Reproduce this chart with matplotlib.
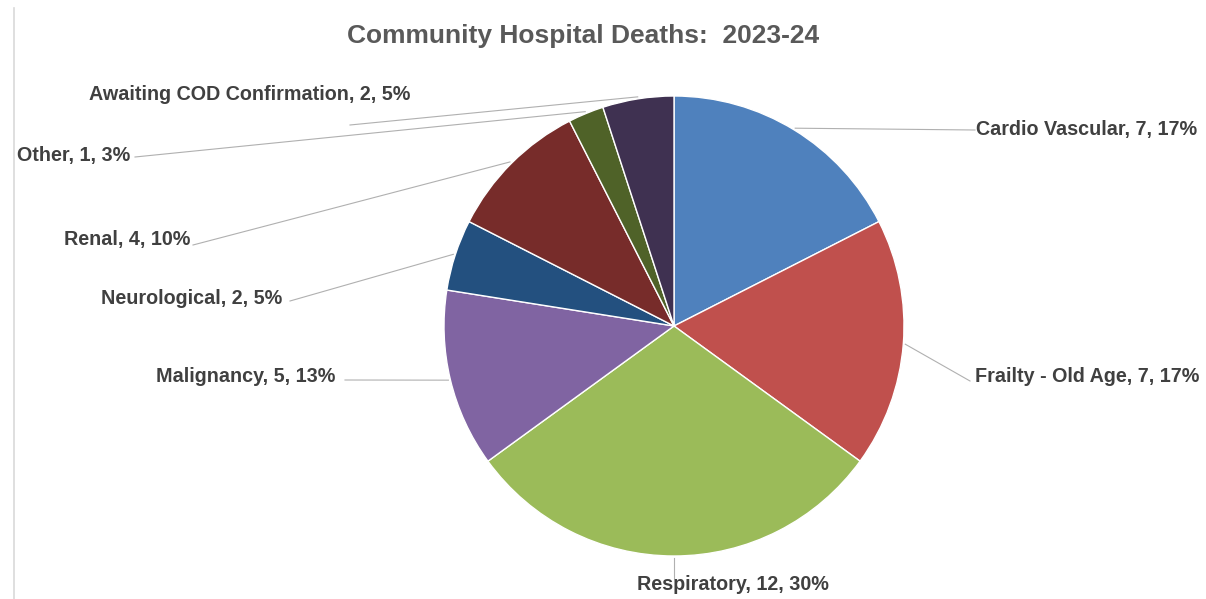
import numpy as np
import matplotlib.pyplot as plt
from matplotlib.lines import Line2D

# Community hospital deaths by cause, 2023-24
causes = ["Cardio Vascular", "Frailty - Old Age", "Respiratory", "Malignancy",
          "Neurological", "Renal", "Other", "Awaiting COD Confirmation"]
deaths = [7, 7, 12, 5, 2, 4, 1, 2]
percent = [17, 17, 30, 13, 5, 10, 3, 5]
colors = ["#4F81BD", "#C0504D", "#9BBB59", "#8064A2",
          "#23507F", "#772C2A", "#4F6228", "#3F3151"]

W, H = 1206, 599

# label placement in pixel space (x, y from top, alignment, leader end)
label_pos = [
    (976, 130, "left", (975, 130)),
    (975, 377, "left", (970, 381)),
    (637, 585, "left", (674, 578)),
    (335, 377, "right", (345, 380)),
    (282, 298, "right", (290, 301)),
    (190, 240, "right", (193, 245)),
    (130, 155, "right", (135, 157)),
    (410, 95, "right", (350, 125)),
]

plt.rcParams['font.family'] = ['Liberation Sans', 'DejaVu Sans']

fig = plt.figure(figsize=(W / 100, H / 100), dpi=100)
ax = fig.add_axes([0, 0, 1, 1])

cx, cy, r = 674, H - 326, 230
wedges, _ = ax.pie(deaths, colors=colors, startangle=90, counterclock=False,
                   center=(cx, cy), radius=r, frame=True,
                   wedgeprops=dict(edgecolor="white", linewidth=1.0))
ax.set_xlim(0, W)
ax.set_ylim(0, H)
ax.set_aspect("equal")
ax.axis("off")

# leader lines from each wedge's mid-angle to its label
for w, name, n, p, (tx, ty, ha, end) in zip(wedges, causes, deaths, percent, label_pos):
    mid = np.deg2rad((w.theta1 + w.theta2) / 2)
    sx = cx + (r + 2) * np.cos(mid)
    sy = cy + (r + 2) * np.sin(mid)
    ax.plot([sx, end[0]], [sy, H - end[1]], color="#b0b0b0", lw=0.8)
    ax.text(tx, H - ty, f"{name}, {n}, {p}%", ha=ha, va="center",
            fontsize=14.2, fontweight="bold", color="#404040")

fig.text(583 / W, 1 - 36 / H, "Community Hospital Deaths:  2023-24",
         ha="center", va="center", fontsize=19, fontweight="bold", color="#595959")

# left border of the chart area
fig.add_artist(Line2D([14 / W, 14 / W], [0, 1 - 8 / H], color="#d9d9d9", lw=1.2))

fig.savefig("out.png", dpi=100)
